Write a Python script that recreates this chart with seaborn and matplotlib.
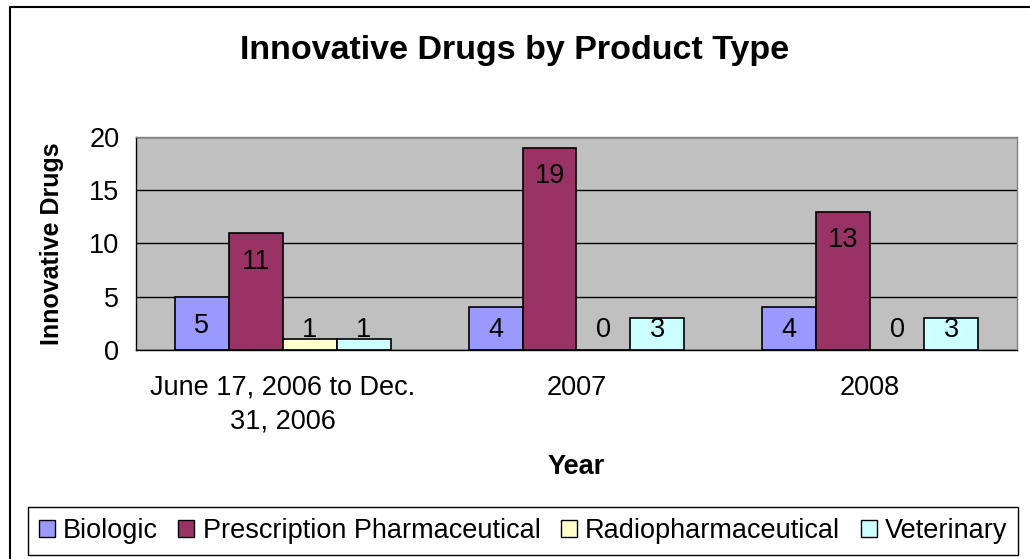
import pandas as pd
import seaborn as sns
import matplotlib.pyplot as plt
from matplotlib.patches import Patch
from matplotlib.lines import Line2D

# Данные графика
years = ['June 17, 2006 to Dec.\n31, 2006', '2007', '2008']
product_types = ['Biologic', 'Prescription Pharmaceutical', 'Radiopharmaceutical', 'Veterinary']
biologic = [5, 4, 4]
prescription = [11, 19, 13]
radiopharm = [1, 0, 0]
veterinary = [1, 3, 3]

colors = ['#9999FF', '#993366', '#FFFFCC', '#CCFFFF']

# Собираем таблицу для seaborn
rows = []
for series, name in zip([biologic, prescription, radiopharm, veterinary], product_types):
    for year, val in zip(years, series):
        rows.append({'Year': year, 'Type': name, 'Count': val})
df = pd.DataFrame(rows)

sns.set_style('white')
plt.rcParams['font.family'] = ['Liberation Sans', 'DejaVu Sans']
plt.rcParams['text.color'] = 'black'
plt.rcParams['axes.labelcolor'] = 'black'
plt.rcParams['xtick.color'] = 'black'
plt.rcParams['ytick.color'] = 'black'

fs = 19.5

fig = plt.figure(figsize=(10.3, 5.59), dpi=100)
ax = fig.add_axes([136 / 1030, 1 - 350 / 559, (1017 - 136) / 1030, (350 - 137) / 559])
ax.set_facecolor('#C0C0C0')

sns.barplot(data=df, x='Year', y='Count', hue='Type', hue_order=product_types,
            palette=colors, width=0.735, edgecolor='black', linewidth=1.2,
            saturation=1, legend=False, ax=ax)

# Подписи значений
for container, series in zip(ax.containers, [biologic, prescription, radiopharm, veterinary]):
    for bar, val in zip(container, series):
        x = bar.get_x() + bar.get_width() / 2
        y = max(val - 2.7, 1.9)
        ax.text(x, y, str(val), ha='center', va='center', fontsize=fs, color='black')

ax.set_ylim(0, 20)
ax.set_xlim(-0.5, 2.5)
ax.set_yticks([0, 5, 10, 15, 20])
ax.yaxis.grid(True, color='black', linewidth=1)
ax.set_axisbelow(True)
ax.set_xticks([-0.5, 0.5, 1.5, 2.5], minor=False)
ax.set_xticklabels([])
ax.set_xticks([0, 1, 2], minor=True)
ax.set_xticklabels(years, minor=True, fontsize=fs)
ax.tick_params(axis='x', which='minor', length=0, pad=18)
ax.tick_params(axis='x', which='major', length=8, width=1, color='black', direction='out')
ax.tick_params(axis='y', length=8, width=1, color='black', direction='out', labelsize=fs, pad=4)
for lab in ax.get_xticklabels(minor=True):
    lab.set_linespacing(1.4)

for side in ['top', 'right']:
    ax.spines[side].set_color('#808080')
    ax.spines[side].set_linewidth(1)
for side in ['left', 'bottom']:
    ax.spines[side].set_color('black')
    ax.spines[side].set_linewidth(1)

ax.set_xlabel('Year', fontsize=fs, fontweight='bold')
ax.xaxis.set_label_coords(0.5, -(467 - 350) / 213)
ax.xaxis.label.set_va('center')
ax.set_ylabel('Innovative Drugs', fontsize=18, fontweight='bold')
ax.yaxis.set_label_coords(-(136 - 52) / 881, 0.5)
ax.yaxis.label.set_va('center')

fig.text(0.5, 1 - 50 / 559, 'Innovative Drugs by Product Type', ha='center', va='center',
         fontsize=24.5, fontweight='bold')

# Легенда
handles = [Patch(facecolor=c, edgecolor='black', linewidth=1) for c in colors]
fig.legend(handles, product_types, loc='center', ncol=4,
           bbox_to_anchor=(523 / 1030, 1 - 531 / 559), fontsize=fs,
           frameon=True, fancybox=False, edgecolor='black', framealpha=1,
           handlelength=0.6, handleheight=0.6, handletextpad=0.3, columnspacing=0.75,
           borderpad=0.4)

# Рамка вокруг графика (видны только левая и верхняя стороны)
fig.add_artist(Line2D([10 / 1030, 10 / 1030], [0, 1 - 7 / 559], transform=fig.transFigure, color='black', lw=1.5))
fig.add_artist(Line2D([10 / 1030, 1], [1 - 7 / 559, 1 - 7 / 559], transform=fig.transFigure, color='black', lw=1.5))

plt.savefig('out.png', dpi=100)
